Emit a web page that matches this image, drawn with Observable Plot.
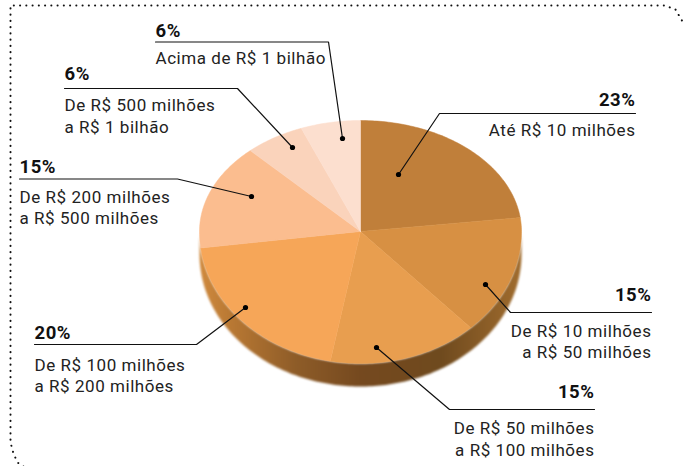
<!DOCTYPE html>
<html><head><meta charset="utf-8">
<style>html,body{margin:0;padding:0;background:#fff}svg{display:block}</style>
<script src="https://cdn.jsdelivr.net/npm/d3@7"></script>
<script src="https://cdn.jsdelivr.net/npm/@observablehq/plot@0.6"></script>
</head><body><div id="chart"></div>
<script>
const shares = [23, 15, 15, 20, 15, 6, 6];
const shareLabels = ["23%", "15%", "15%", "20%", "15%", "6%", "6%"];
const bandLines = [
  ["Até R$ 10 milhões"],
  ["De R$ 10 milhões", "a R$ 50 milhões"],
  ["De R$ 50 milhões", "a R$ 100 milhões"],
  ["De R$ 100 milhões", "a R$ 200 milhões"],
  ["De R$ 200 milhões", "a R$ 500 milhões"],
  ["De R$ 500 milhões", "a R$ 1 bilhão"],
  ["Acima de R$ 1 bilhão"]
];
const sliceColors = ["#c07f3a", "#d79043", "#e89e4f", "#f6a658", "#fbbd8f", "#fad3bb", "#fcdfcf"];

// label layout: text anchor x, percent baseline, rule y, rule far end, leader tip, text baselines
const labelAnchor = ["end", "end", "end", "start", "start", "start", "start"];
const labelX = [635, 651, 594, 34, 19, 64, 155];
const percentBase = [105, 300, 397, 338, 172, 79, 36];
const ruleY = [113, 312, 409, 344, 178.5, 88, 41.5];
const ruleElbowX = [439, 510, 449, 196, 177, 237, 328];
const tipX = [398, 485, 376, 245, 251, 292, 342];
const tipY = [174, 284, 347, 307, 196, 147, 138];
const textBase = [[135], [336, 357], [433, 455], [370, 391], [202, 223], [110, 132], [63]];

// pie geometry (pixel-valued linear scales below)
const cx = 360, cy = 231, rx = 161, ryUp = 111, ryDown = 132, depth = 23;
const ellipse = (deg) => {
  const a = deg * Math.PI / 180, c = Math.cos(a);
  return {x: cx + rx * Math.sin(a), y: cy - c * (c > 0 ? ryUp : ryDown)};
};
const total = d3.sum(shares);
const cum = d3.cumsum(shares);
const slices = shares.map((v, i) => {
  const a0 = (i ? cum[i - 1] : 0) / total * 360, a1 = cum[i] / total * 360;
  const pts = [{x: cx, y: cy}];
  for (let a = a0; a < a1; a += 1) pts.push(ellipse(a));
  pts.push(ellipse(a1), {x: cx, y: cy});
  return pts;
});
const sidePts = [];
for (let a = 90; a <= 270; a += 1) sidePts.push(ellipse(a));
for (let a = 270; a >= 90; a -= 1) { const p = ellipse(a); sidePts.push({x: p.x, y: p.y + depth}); }

const framePts = [
  {x: 23, y: 466}, {x: 17, y: 462}, {x: 13, y: 453}, {x: 10, y: 442}, {x: 10, y: 5},
  {x: 664, y: 5}, {x: 675, y: 9}, {x: 682, y: 21}
];
const leaders = shares.flatMap((_, i) => [
  {i, x: labelX[i], y: ruleY[i]}, {i, x: ruleElbowX[i], y: ruleY[i]}, {i, x: tipX[i], y: tipY[i]}
]);
const bandText = shares.flatMap((_, i) => bandLines[i].map((t, j) => ({i, t, y: textBase[i][j]})));
const font = "Roboto, sans-serif";
const percentRows = shares.map((_, i) => ({i, t: shareLabels[i], y: percentBase[i]}));
const sides = ["start", "end"];
const labelMarks = sides.flatMap((anchor) => [
  Plot.text(percentRows.filter(d => labelAnchor[d.i] === anchor), {x: d => labelX[d.i], y: "y", text: "t",
    textAnchor: anchor, lineAnchor: "bottom", fontFamily: font, fontWeight: 700, fontSize: 18.5, fill: "#111"}),
  Plot.text(bandText.filter(d => labelAnchor[d.i] === anchor), {x: d => labelX[d.i], y: "y", text: "t",
    textAnchor: anchor, lineAnchor: "bottom", fontFamily: font, fontSize: 17, fill: "#222"})
]);

const chart = Plot.plot({
  width: 684, height: 466, margin: 0,
  style: {letterSpacing: "0.55px"},
  x: {domain: [0, 684], range: [0, 684], axis: null},
  y: {domain: [0, 466], range: [0, 466], axis: null},
  marks: [
    () => {
      const s = d3.create("svg:defs");
      const g = s.append("linearGradient").attr("id", "side").attr("x1", 0).attr("x2", 1);
      [[0, "#d08a3e"], [0.1, "#b87833"], [0.3, "#8e5c28"], [0.5, "#75491f"], [0.75, "#6f4a1e"], [1, "#a06c2e"]]
        .forEach(([o, c]) => g.append("stop").attr("offset", o).attr("stop-color", c));
      return s.node();
    },
    Plot.line(framePts, {x: "x", y: "y", stroke: "#111", strokeWidth: 2, strokeDasharray: "0.1,6.15", strokeLinecap: "round", curve: "linear"}),
    Plot.line(sidePts, {x: "x", y: "y", fill: "url(#side)", stroke: "none", imageFilter: "blur(0.8px)"}),
    ...slices.map((pts, i) => Plot.line(pts, {x: "x", y: "y", fill: sliceColors[i], stroke: sliceColors[i], strokeWidth: 0.5})),
    Plot.line(leaders, {x: "x", y: "y", z: "i", stroke: "#111", strokeWidth: 1.2, strokeLinejoin: "miter"}),
    Plot.dot(shares, {x: (_, i) => tipX[i], y: (_, i) => tipY[i], r: 2.6, fill: "#000"}),
    ...labelMarks
  ]
});
document.getElementById("chart").append(chart);
</script></body></html>
